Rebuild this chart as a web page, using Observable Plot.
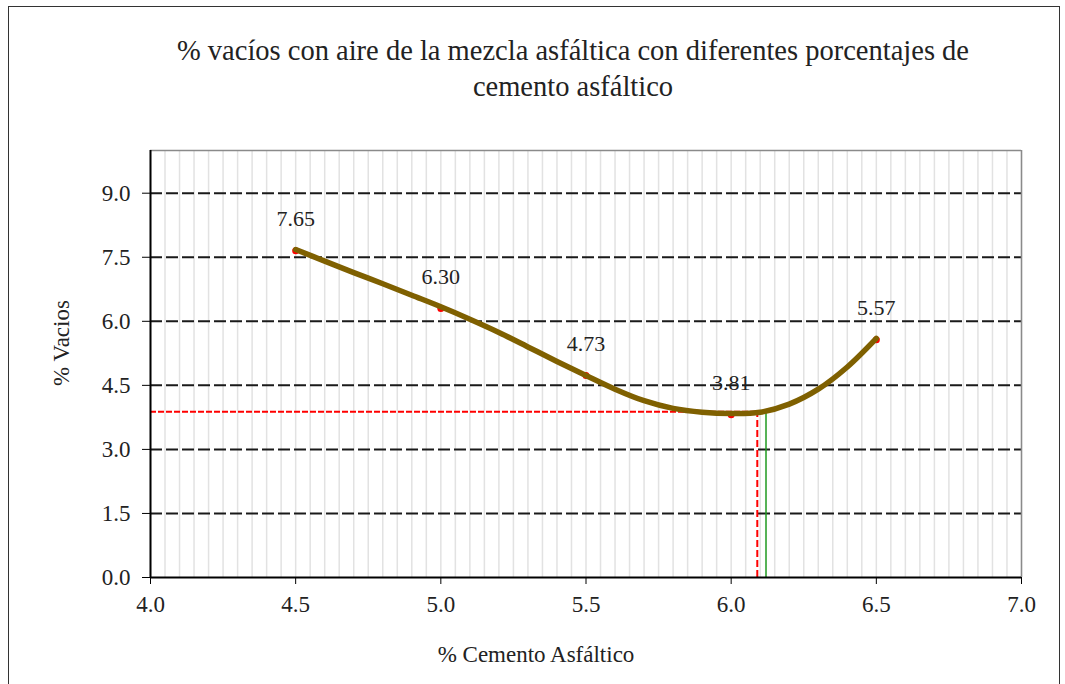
<!DOCTYPE html>
<html>
<head>
<meta charset="utf-8">
<script src="https://cdn.jsdelivr.net/npm/d3@7"></script>
<script src="https://cdn.jsdelivr.net/npm/@observablehq/plot@0.6"></script>
<style>
  body { margin: 0; background: #fff; }
  #wrap { position: relative; width: 1065px; height: 684px; overflow: hidden;
          font-family: "Liberation Serif", "Tinos", "DejaVu Serif", serif; color: #222; }
  #frame { position: absolute; left: 8px; top: 6px; width: 1052px; height: 720px;
           border: 1.5px solid #333; box-sizing: border-box; }
  #title { position: absolute; left: 0; top: 33px; width: 1146px; text-align: center;
           font-size: 28.5px; line-height: 36px; }
  #xlabel { position: absolute; left: 336px; width: 400px; top: 641px; text-align: center;
            font-size: 23px; line-height: 28px; }
  #ylabel { position: absolute; left: 62px; top: 343px; font-size: 23px; line-height: 28px;
            white-space: nowrap; transform: translate(-50%, -50%) rotate(-90deg); }
  #chart { position: absolute; left: 0; top: 0; }
</style>
</head>
<body>
<div id="wrap">
  <div id="frame"></div>
  <div id="chart"></div>
  <div id="title">% vacíos con aire de la mezcla asfáltica con diferentes porcentajes de<br>cemento asfáltico</div>
  <div id="xlabel">% Cemento Asfáltico</div>
  <div id="ylabel">% Vacios</div>
</div>
<script>
// Ensayos: porcentaje de cemento asfáltico y % de vacíos medido
const pctCemento = [4.5, 5.0, 5.5, 6.0, 6.5];
const pctVacios = [7.65, 6.30, 4.73, 3.81, 5.57];

// Curva de ajuste trazada sobre los ensayos
const curvaCemento = [4.5, 4.6, 4.7, 4.8, 4.9, 5.0, 5.1, 5.2, 5.3, 5.4, 5.5,
                      5.6, 5.7, 5.8, 5.9, 6.0, 6.1, 6.2, 6.3, 6.4, 6.5];
const curvaVacios = [7.68, 7.41, 7.14, 6.88, 6.61, 6.34, 6.05, 5.74, 5.40, 5.06, 4.73,
                     4.41, 4.14, 3.96, 3.87, 3.84, 3.87, 4.06, 4.41, 4.93, 5.60];

// Lectura del contenido óptimo sobre la curva
const optimoCemento = 6.09;
const optimoVacios = 3.88;
const disenoCemento = 6.12;

// Marcas de los ejes
const xTicks = [4.0, 4.5, 5.0, 5.5, 6.0, 6.5, 7.0];
const yTicks = [0.0, 1.5, 3.0, 4.5, 6.0, 7.5, 9.0];

const ensayos = pctCemento.map((x, i) => ({x, y: pctVacios[i]}));
const curva = curvaCemento.map((x, i) => ({x, y: curvaVacios[i]}));
const minorX = d3.range(0, 61).map(i => 4 + i * 0.05);
const fmt = d3.format(".1f");
const serif = "'Liberation Serif', Tinos, 'DejaVu Serif', serif";

const chart = Plot.plot({
  width: 1065,
  height: 684,
  marginTop: 150,
  marginLeft: 150,
  marginRight: 44,
  marginBottom: 107,
  style: {fontFamily: serif, fontSize: "23px", color: "#222", background: "transparent"},
  x: {domain: [4, 7]},
  y: {domain: [0, 10]},
  marks: [
    // rejilla vertical fina
    Plot.ruleX(minorX, {stroke: "#e2e2e2", strokeWidth: 1.5}),
    // rejilla horizontal discontinua
    Plot.ruleY(yTicks.filter(v => v > 0), {stroke: "#1a1a1a", strokeWidth: 2, strokeDasharray: "12,4"}),
    // borde del área de trazado
    Plot.ruleY([10], {stroke: "#8a8a8a", strokeWidth: 1.5}),
    Plot.ruleX([7], {stroke: "#8a8a8a", strokeWidth: 1.5}),
    // líneas de lectura del óptimo
    Plot.ruleY([optimoVacios], {x1: 4, x2: optimoCemento, stroke: "#ff0000", strokeWidth: 2, strokeDasharray: "6,2"}),
    Plot.ruleX([optimoCemento], {y1: 0, y2: optimoVacios, stroke: "#ff0000", strokeWidth: 2, strokeDasharray: "7,3"}),
    Plot.ruleX([disenoCemento], {y1: 0, y2: optimoVacios, stroke: "#1f9a1f", strokeWidth: 1.5}),
    // ensayos y curva
    Plot.dot(ensayos, {x: "x", y: "y", r: 3.5, fill: "#ff0000"}),
    Plot.line(curva, {x: "x", y: "y", stroke: "#7f6000", strokeWidth: 5.5, curve: "catmull-rom"}),
    Plot.text(ensayos, {x: "x", y: "y", text: d => d.y.toFixed(2), dy: -32, fontSize: 22, fill: "#222"}),
    // ejes
    Plot.axisX({ticks: xTicks, tickFormat: fmt, tickSize: 7, tickPadding: 11, label: null, stroke: "#000", fill: "#222"}),
    Plot.axisY({ticks: yTicks, tickFormat: fmt, tickSize: 8, tickPadding: 12, label: null, stroke: "#000", fill: "#222"}),
    Plot.ruleX([4], {stroke: "#000", strokeWidth: 2}),
    Plot.ruleY([0], {stroke: "#000", strokeWidth: 2})
  ]
});
document.getElementById("chart").appendChild(chart);
</script>
</body>
</html>
